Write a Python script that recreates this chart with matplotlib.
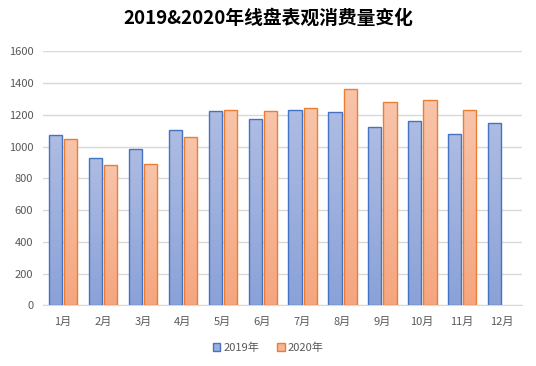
import matplotlib
matplotlib.use("Agg")
import matplotlib.pyplot as plt
import numpy as np
from matplotlib.colors import LinearSegmentedColormap
from matplotlib.patches import Patch

plt.rcParams['font.family'] = ['Noto Sans CJK SC', 'DejaVu Sans']

# data
months = ["1月", "2月", "3月", "4月", "5月", "6月", "7月", "8月", "9月", "10月", "11月", "12月"]
v2019 = [1070, 926, 983, 1103, 1222, 1176, 1233, 1220, 1126, 1159, 1082, 1151]
v2020 = [1045, 886, 893, 1063, 1229, 1222, 1245, 1365, 1283, 1296, 1233]

fig = plt.figure(figsize=(5.36, 3.66), dpi=100)
ax = fig.add_axes([43 / 536, 1 - 305.3 / 366, 479 / 536, 254 / 366])

x = np.arange(len(months))
w = 0.33
b1 = ax.bar(x - 0.185, v2019, w, facecolor="none", edgecolor="#4472C4", linewidth=1.0, zorder=3)
b2 = ax.bar(x[:len(v2020)] + 0.195, v2020, w, facecolor="none", edgecolor="#ED7D31", linewidth=1.0, zorder=3)

# gradient fills inside the bars
grad = np.linspace(0, 1, 256).reshape(-1, 1)
cm_blue = LinearSegmentedColormap.from_list("b", ["#8AA2D8", "#AEBCE2"])
cm_orange = LinearSegmentedColormap.from_list("o", ["#F5A67F", "#F8C4AA"])
for bars, cm in [(b1, cm_blue), (b2, cm_orange)]:
    for p in bars.patches:
        x0, y0 = p.get_x(), p.get_y()
        im = ax.imshow(grad, cmap=cm, aspect="auto", origin="lower",
                       extent=[x0, x0 + p.get_width(), y0, y0 + p.get_height()], zorder=2)
        im.set_clip_path(p)

ax.set_xlim(-0.5, 11.5)
ax.set_ylim(0, 1600)
ax.set_yticks(range(0, 1601, 200))
ax.set_xticks(x)
ax.set_xticklabels(months)
ax.yaxis.grid(True, color="#D9D9D9", linewidth=1.0, zorder=0)
ax.set_axisbelow(True)
for s in ["top", "right", "left"]:
    ax.spines[s].set_visible(False)
ax.spines["bottom"].set_color("#D9D9D9")
ax.tick_params(axis="x", length=0, labelsize=8, colors="#595959", pad=8)
ax.tick_params(axis="y", length=0, labelsize=8, colors="#595959", pad=7)

fig.suptitle("2019&2020年线盘表观消费量变化", fontsize=13.5, fontweight="bold", y=0.975)

handles = [Patch(facecolor="#9CB0DD", edgecolor="#4472C4", label="2019年"),
           Patch(facecolor="#F6B594", edgecolor="#ED7D31", label="2020年")]
fig.legend(handles=handles, loc="center", bbox_to_anchor=(0.5, 1 - 348 / 366), ncol=2,
           frameon=False, fontsize=8, handlelength=0.7, handleheight=0.7, handletextpad=0.25,
           columnspacing=1.6, labelcolor="#595959")

fig.savefig("out.png", dpi=100)
